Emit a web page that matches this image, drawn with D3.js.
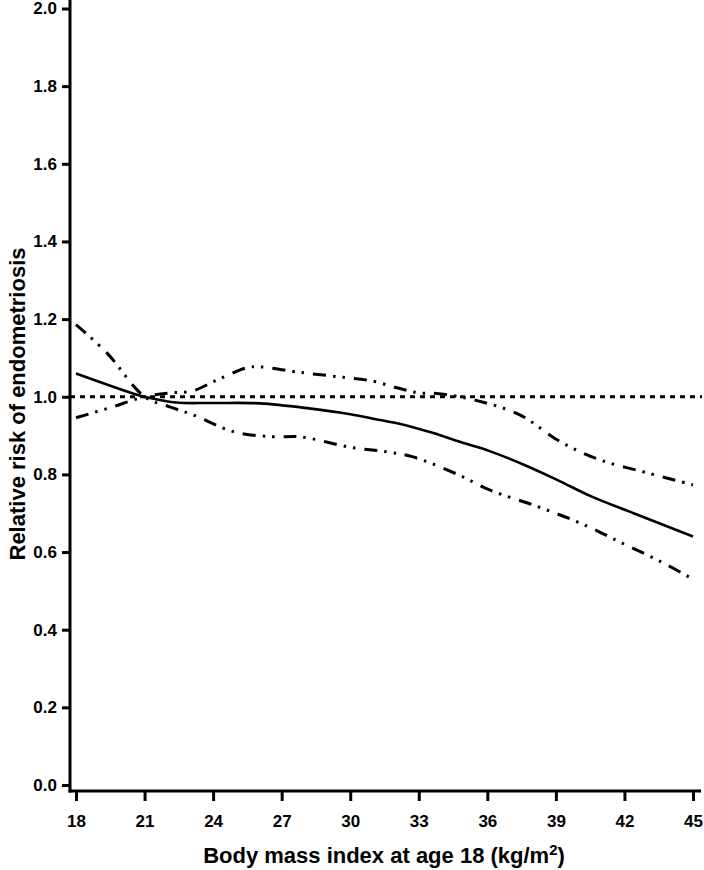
<!DOCTYPE html>
<html><head><meta charset="utf-8">
<script src="https://cdn.jsdelivr.net/npm/d3@7"></script>
<style>body{margin:0;background:#fff}svg{display:block}text{font-family:"Liberation Sans",Arial,Helvetica,sans-serif;font-weight:bold;fill:#000}</style>
</head><body><svg id="c" width="704" height="870"></svg>
<script>
const xTicks = [18,21,24,27,30,33,36,39,42,45];
const yTicks = [0.0,0.2,0.4,0.6,0.8,1.0,1.2,1.4,1.6,1.8,2.0];
const xTitle = "Body mass index at age 18 (kg/m²)";
const yTitle = "Relative risk of endometriosis";

const estBmi = [18,20.67,21,22.4,24,26.05,28.2,30,31.3,32.2,33.6,35,36.1,37.6,39.05,40.6,42.4,45];
const estRR  = [1.06,1.005,1.0,0.985,0.984,0.983,0.97,0.955,0.94,0.93,0.907,0.88,0.86,0.825,0.786,0.742,0.70,0.64];

const upBmi = [18,19.5,21,22.1,23.1,24.2,25.5,26.05,27.5,28.2,29.7,31.0,32.05,33,33.9,35.55,37.4,39.2,40.9,43.0,45];
const upRR  = [0.946,0.972,1.0,1.01,1.015,1.044,1.075,1.077,1.065,1.06,1.05,1.04,1.023,1.01,1.008,0.99,0.954,0.884,0.838,0.804,0.773];

const loBmi = [18,19.35,21,22.1,23.1,24.9,26.6,27.8,30,31.6,32.75,34.7,36.1,38.2,40.05,41.9,43.7,45];
const loRR  = [1.186,1.113,1.0,0.974,0.954,0.91,0.897,0.897,0.87,0.858,0.845,0.80,0.76,0.717,0.675,0.623,0.572,0.53];

const refRR = 1.0;

const svg = d3.select("#c");
const x = d3.scaleLinear().domain([18,45]).range([76,693]);
const y = d3.scaleLinear().domain([0,2]).range([785,8.5]);
const axX = 70, axY = 791;

// reference line
svg.append("line").attr("x1",axX).attr("x2",702).attr("y1",y(refRR)).attr("y2",y(refRR))
  .attr("stroke","#000").attr("stroke-width",3).attr("stroke-dasharray","5,5");

const line = d3.line().curve(d3.curveCatmullRom.alpha(0.5)).x(d=>x(d[0])).y(d=>y(d[1]));
const ciDash = "13,7,2.5,7,2.5,9";
svg.append("path").datum(d3.zip(upBmi,upRR)).attr("d",line).attr("fill","none").attr("stroke","#000").attr("stroke-width",3).attr("stroke-dasharray",ciDash);
svg.append("path").datum(d3.zip(loBmi,loRR)).attr("d",line).attr("fill","none").attr("stroke","#000").attr("stroke-width",3).attr("stroke-dasharray",ciDash);
svg.append("path").datum(d3.zip(estBmi,estRR)).attr("d",line).attr("fill","none").attr("stroke","#000").attr("stroke-width",2.6);

// y axis
const yMinor = d3.range(0,2.0001,0.04);
const gy = svg.append("g").attr("transform",`translate(${axX},0)`);
gy.call(d3.axisLeft(y).tickValues(yMinor).tickSize(5).tickFormat("")).call(g=>g.select(".domain").remove());
gy.call(d3.axisLeft(y).tickValues(yTicks).tickSize(8).tickPadding(5).tickFormat(d3.format(".1f"))).call(g=>g.select(".domain").remove());
gy.selectAll("line").attr("stroke","#000").attr("stroke-width",3);
gy.selectAll("text").attr("font-size",17).attr("fill","#000");
svg.append("line").attr("x1",axX).attr("x2",axX).attr("y1",0).attr("y2",axY+1.5).attr("stroke","#000").attr("stroke-width",3);

// x axis
const xMinor = d3.range(18,45.001,0.5);
const gx = svg.append("g").attr("transform",`translate(0,${axY})`);
gx.call(d3.axisBottom(x).tickValues(xMinor).tickSize(6).tickFormat("")).call(g=>g.select(".domain").remove());
gx.call(d3.axisBottom(x).tickValues(xTicks).tickSize(10).tickPadding(14).tickFormat(d3.format("d"))).call(g=>g.select(".domain").remove());
gx.selectAll("line").attr("stroke","#000").attr("stroke-width",3);
gx.selectAll("text").attr("font-size",17).attr("fill","#000");
svg.append("line").attr("x1",axX-1.5).attr("x2",701).attr("y1",axY).attr("y2",axY).attr("stroke","#000").attr("stroke-width",3);

// titles
const xt = svg.append("text").attr("x",384).attr("y",863).attr("text-anchor","middle").attr("font-size",22);
xt.append("tspan").text("Body mass index at age 18 (kg/m");
xt.append("tspan").attr("dy",-8).attr("font-size",15).text("2");
xt.append("tspan").attr("dy",8).text(")");
svg.append("text").attr("transform","translate(25,404) rotate(-90)").attr("text-anchor","middle").attr("font-size",22).text(yTitle);
</script></body></html>
